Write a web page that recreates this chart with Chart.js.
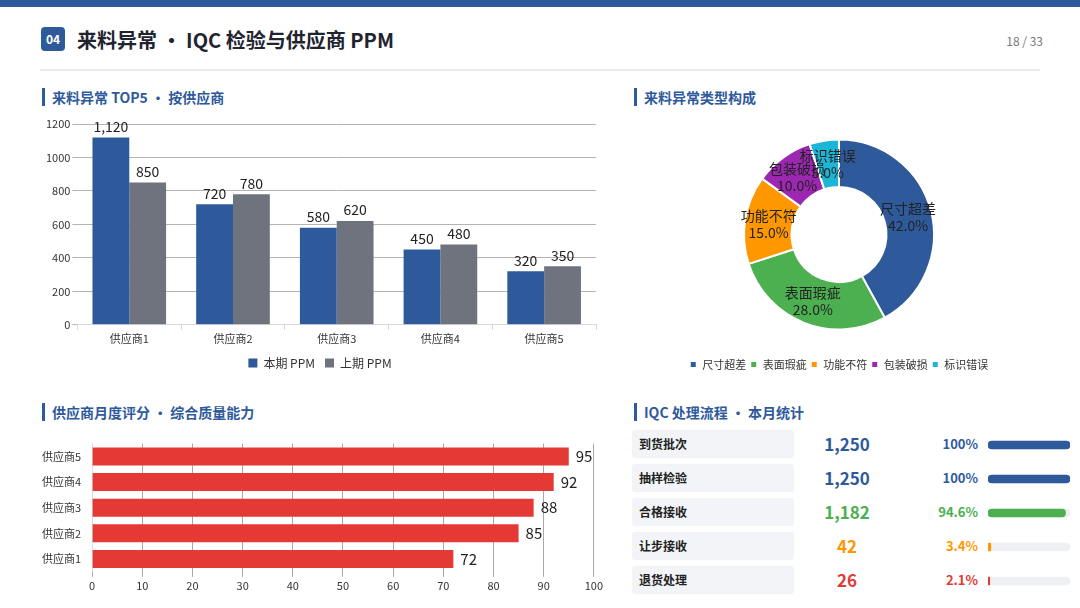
<!DOCTYPE html>
<html><head><meta charset="utf-8">
<script src="https://cdn.jsdelivr.net/npm/chart.js@4.4.1/dist/chart.umd.min.js"></script>
<style>
html,body{margin:0;padding:0;background:#fff;}
body{width:1080px;height:608px;position:relative;overflow:hidden;font-family:"Noto Sans CJK SC","Noto Sans",sans-serif;}
.abs{position:absolute;}
#topbar{left:0;top:0;width:1080px;height:7px;background:#2E5A9C;}
#badge{left:41px;top:27px;width:24px;height:24px;border-radius:4px;background:#2E5A9C;color:#fff;font-size:12px;font-weight:700;line-height:24px;text-align:center;}
#title{left:77px;top:24px;font-size:20px;font-weight:700;color:#1f2430;line-height:32px;white-space:nowrap;}
#page{left:990px;top:33px;width:53px;text-align:right;font-size:12px;color:#777;line-height:16px;}
#divider{left:40px;top:69px;width:1000px;height:2px;background:#e8eaee;}
.sec{font-size:14px;font-weight:700;color:#2E5A9C;line-height:18px;white-space:nowrap;padding-left:7px;border-left:3px solid #2E5A9C;}
.rowlab{left:632px;width:155px;height:28px;background:#f3f4f7;border-radius:3px;font-size:12px;font-weight:700;color:#222;line-height:28px;padding-left:7px;}
.rowval{left:800px;width:94px;text-align:center;font-size:17px;font-weight:700;line-height:28px;}
.rowpct{left:900px;width:78px;text-align:right;font-size:13px;font-weight:700;line-height:28px;}
</style></head><body>
<div class="abs" id="topbar"></div>
<div class="abs" id="badge">04</div>
<div class="abs" id="title">来料异常 • IQC 检验与供应商 PPM</div>
<div class="abs" id="page">18 / 33</div>
<div class="abs" id="divider"></div>

<div class="abs sec" style="left:42px;top:88px;">来料异常 TOP5 • 按供应商</div>
<div class="abs sec" style="left:634px;top:88px;">来料异常类型构成</div>
<div class="abs sec" style="left:42px;top:403px;">供应商月度评分 • 综合质量能力</div>
<div class="abs sec" style="left:634px;top:403px;">IQC 处理流程 • 本月统计</div>

<div class="abs" style="left:44px;top:112px;width:562px;height:267px;"><canvas id="c1"></canvas></div>
<div class="abs" style="left:679px;top:114px;width:320px;height:266px;"><canvas id="c2"></canvas></div>
<div class="abs" style="left:39px;top:434px;width:566px;height:160px;"><canvas id="c3"></canvas></div>
<div id="table"></div>
<div class="abs" style="left:988px;top:428px;width:82px;height:170px;"><canvas id="c4"></canvas></div>

<script>
// ---- data ----
const suppliers = ['供应商1','供应商2','供应商3','供应商4','供应商5'];
const ppmCurrent = [1120, 720, 580, 450, 320];
const ppmPrevious = [850, 780, 620, 480, 350];
const yTicks = [0, 200, 400, 600, 800, 1000, 1200];

const defectTypes = ['尺寸超差','表面瑕疵','功能不符','包装破损','标识错误'];
const defectShares = [42, 28, 15, 10, 5];

const scoreSuppliers = ['供应商5','供应商4','供应商3','供应商2','供应商1'];
const scores = [95, 92, 88, 85, 72];

const stepNames = ['到货批次','抽样检验','合格接收','让步接收','退货处理'];
const stepCounts = [1250, 1250, 1182, 42, 26];
const stepPercents = [100, 100, 94.6, 3.4, 2.1];
const stepPctLabels = ['100%','100%','94.6%','3.4%','2.1%'];

const BLUE='#2E5A9C', GRAY='#6E737D', RED='#E53935', GREEN='#4CAF50', ORANGE='#FF9800', PURPLE='#9C27B0', CYAN='#1CB5D6';
const stepColors = [BLUE, BLUE, GREEN, ORANGE, RED];
const FONT = '"Noto Sans CJK SC","Noto Sans",sans-serif';
Chart.defaults.font.family = FONT;
Chart.defaults.color = '#333';
Chart.defaults.animation = false;
Chart.defaults.responsive = true;
Chart.defaults.maintainAspectRatio = false;

// ---- table text ----
const tbl = document.getElementById('table');
stepNames.forEach((n,i)=>{
  const top = 430 + i*34;
  tbl.insertAdjacentHTML('beforeend',
    `<div class="abs rowlab" style="top:${top}px">${n}</div>`+
    `<div class="abs rowval" style="top:${top}px;color:${stepColors[i]}">${stepCounts[i].toLocaleString('en-US')}</div>`+
    `<div class="abs rowpct" style="top:${top}px;color:${stepColors[i]}">${stepPctLabels[i]}</div>`);
});

// ---- label plugins ----
const vBarLabels = {
  id:'vBarLabels',
  afterDatasetsDraw(chart){
    const ctx = chart.ctx; ctx.save();
    ctx.font = '14px '+FONT; ctx.fillStyle = '#222'; ctx.textAlign='center'; ctx.textBaseline='bottom';
    chart.data.datasets.forEach((ds,di)=>{
      chart.getDatasetMeta(di).data.forEach((el,i)=>{
        ctx.fillText(ds.data[i].toLocaleString('en-US'), el.x, el.y - 4);
      });
    });
    ctx.restore();
  }
};
const hBarLabels = {
  id:'hBarLabels',
  afterDatasetsDraw(chart){
    const ctx = chart.ctx; ctx.save();
    ctx.font = '15px '+FONT; ctx.fillStyle = '#222'; ctx.textAlign='left'; ctx.textBaseline='middle';
    chart.data.datasets.forEach((ds,di)=>{
      chart.getDatasetMeta(di).data.forEach((el,i)=>{
        ctx.fillText(String(ds.data[i]), el.x + 7, el.y);
      });
    });
    ctx.restore();
  }
};
const donutLabels = {
  id:'donutLabels',
  afterDatasetsDraw(chart){
    const ctx = chart.ctx; ctx.save();
    ctx.font = '14px '+FONT; ctx.fillStyle = '#222'; ctx.textAlign='center'; ctx.textBaseline='middle';
    const ds = chart.data.datasets[0];
    const total = ds.data.reduce((a,b)=>a+b,0);
    chart.getDatasetMeta(0).data.forEach((arc,i)=>{
      const p = arc.tooltipPosition();
      ctx.fillText(chart.data.labels[i], p.x, p.y - 8);
      ctx.fillText((ds.data[i]/total*100).toFixed(1)+'%', p.x, p.y + 9);
    });
    ctx.restore();
  }
};

// ---- chart 1 ----
new Chart(document.getElementById('c1'), {
  type:'bar',
  data:{ labels: suppliers, datasets:[
    {label:'本期 PPM', data: ppmCurrent, backgroundColor: BLUE, categoryPercentage:0.71, barPercentage:1},
    {label:'上期 PPM', data: ppmPrevious, backgroundColor: GRAY, categoryPercentage:0.71, barPercentage:1}
  ]},
  options:{
    layout:{padding:{top:12,right:10}},
    plugins:{ tooltip:{enabled:false},
      legend:{position:'bottom', labels:{boxWidth:9, boxHeight:9, padding:10, font:{size:12}, color:'#333'}}},
    scales:{
      x:{ grid:{drawOnChartArea:false, color:'#d8d8d8', tickLength:5}, border:{color:'#d8d8d8'},
          ticks:{font:{size:11}, color:'#333', padding:2} },
      y:{ min:0, max:1200, afterBuildTicks(ax){ ax.ticks = yTicks.map(v=>({value:v})); },
          grid:{color:'#b4b4b4', tickLength:5}, border:{display:false},
          ticks:{font:{size:11}, color:'#333', padding:2, callback:(v)=>String(v)} }
    }
  },
  plugins:[vBarLabels]
});

// ---- chart 2 ----
new Chart(document.getElementById('c2'), {
  type:'doughnut',
  data:{ labels: defectTypes, datasets:[{ data: defectShares,
    backgroundColor:[BLUE, GREEN, ORANGE, PURPLE, CYAN], borderColor:'#fff', borderWidth:2, hoverOffset:0 }]},
  options:{
    cutout:'50%', radius:95,
    plugins:{ tooltip:{enabled:false},
      legend:{position:'bottom', labels:{boxWidth:7, boxHeight:7, padding:4, font:{size:11}, color:'#333'}}}
  },
  plugins:[donutLabels]
});

// ---- chart 3 ----
new Chart(document.getElementById('c3'), {
  type:'bar',
  data:{ labels: scoreSuppliers, datasets:[{ data: scores, backgroundColor: RED, categoryPercentage:0.7, barPercentage:1 }]},
  options:{
    indexAxis:'y',
    layout:{padding:{right:11}},
    plugins:{ legend:{display:false}, tooltip:{enabled:false}},
    scales:{
      x:{ min:0, max:100, ticks:{stepSize:10, font:{size:11}, color:'#333', padding:2},
          grid:{color:'#a8a8a8', tickLength:5}, border:{display:false} },
      y:{ grid:{display:false}, border:{color:'#dcdcdc'}, ticks:{font:{size:11}, color:'#333'} }
    }
  },
  plugins:[hBarLabels]
});

// ---- chart 4: progress bars ----
new Chart(document.getElementById('c4'), {
  type:'bar',
  data:{ labels: stepNames, datasets:[
    { data: stepPercents, backgroundColor: stepColors, barThickness:8, borderRadius:4, borderSkipped:false, grouped:false, order:0 },
    { data: stepNames.map(()=>100), backgroundColor:'#eef0f4', barThickness:8, borderRadius:4, borderSkipped:false, grouped:false, order:1 }
  ]},
  options:{
    indexAxis:'y',
    layout:{padding:0},
    plugins:{ legend:{display:false}, tooltip:{enabled:false}},
    scales:{ x:{display:false, min:0, max:100}, y:{display:false} }
  }
});
</script>
</body></html>
